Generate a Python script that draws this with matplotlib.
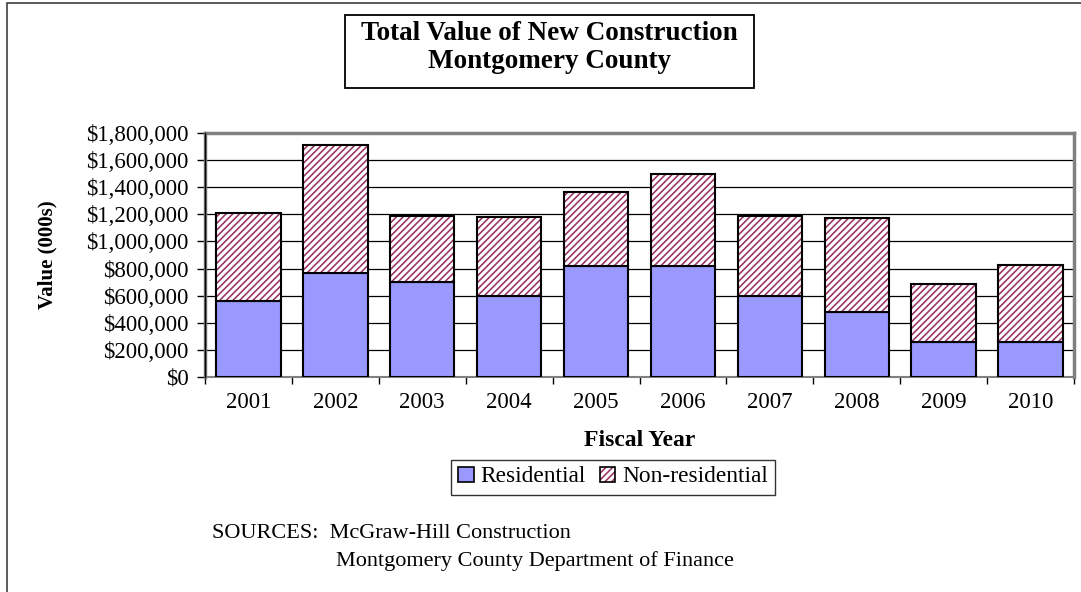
import matplotlib
matplotlib.use("Agg")
import matplotlib.pyplot as plt
from matplotlib.patches import Rectangle, Patch
from matplotlib.legend_handler import HandlerTuple
from matplotlib.ticker import FuncFormatter, FixedLocator

years = ["2001", "2002", "2003", "2004", "2005", "2006", "2007", "2008", "2009", "2010"]
residential = [560000, 770000, 700000, 600000, 820000, 820000, 600000, 480000, 258000, 258000]
total = [1210000, 1715000, 1190000, 1178000, 1365000, 1500000, 1190000, 1170000, 688000, 825000]
non_residential = [t - r for t, r in zip(total, residential)]

plt.rcParams['font.family'] = ['Liberation Serif', 'DejaVu Serif']
plt.rcParams['hatch.linewidth'] = 1.15

W, H = 1081, 592
fig = plt.figure(figsize=(W / 100, H / 100), dpi=100)
fig.patch.set_facecolor('white')

# outer frame (top and left visible)
fig.add_artist(Rectangle((7 / W, -0.1), 1.2, 1.1 - 3 / H, transform=fig.transFigure,
                         fill=False, edgecolor='#404040', linewidth=1.2))

l, r, t, b = 205, 1074, 133, 377
ax = fig.add_axes([l / W, 1 - b / H, (r - l) / W, (b - t) / H])

x = list(range(len(years)))
width = 0.74
res_color = '#9999FF'
hatch_color = '#993366'

ax.bar(x, residential, width, color=res_color, edgecolor='black', linewidth=1.5, zorder=3)
ax.bar(x, non_residential, width, bottom=residential, color='white',
       edgecolor=hatch_color, hatch='/////', linewidth=0, zorder=3)
ax.bar(x, non_residential, width, bottom=residential, facecolor='none',
       edgecolor='black', linewidth=1.5, zorder=4)

ax.set_xlim(-0.5, len(years) - 0.5)
ax.set_ylim(0, 1800000)
ax.yaxis.set_major_locator(FixedLocator(list(range(0, 1800001, 200000))))
ax.yaxis.set_major_formatter(FuncFormatter(lambda v, p: "${:,.0f}".format(v)))
ax.grid(axis='y', color='black', linewidth=0.9, zorder=1)
ax.set_axisbelow(True)

ax.xaxis.set_major_locator(FixedLocator([i - 0.5 for i in range(len(years) + 1)]))
ax.xaxis.set_major_formatter(FuncFormatter(lambda v, p: ""))
ax.xaxis.set_minor_locator(FixedLocator(x))
ax.set_xticklabels(years, minor=True)
ax.tick_params(axis='x', which='minor', length=0, pad=11, labelsize=16.5)
ax.tick_params(axis='x', which='major', length=5, width=1, color='black', direction='out')
ax.tick_params(axis='y', length=6, width=1, color='black', direction='out', labelsize=16.5, pad=6)

for s in ['top', 'right', 'left']:
    ax.spines[s].set_color('#808080')
    ax.spines[s].set_linewidth(2.5)
ax.spines['bottom'].set_color('#808080')
ax.spines['bottom'].set_linewidth(1.5)
ax.plot([0, 0], [0, 1], transform=ax.transAxes, color='black', linewidth=1, zorder=6, clip_on=False)

fig.text(47 / W, 1 - 255 / H, "Value (000s)", rotation=90, ha='center', va='center',
         fontsize=15, fontweight='bold')
fig.text(640 / W, 1 - 440 / H, "Fiscal Year", ha='center', va='center',
         fontsize=17, fontweight='bold')

# title box
bx0, bx1, by0, by1 = 345, 754, 15, 88
fig.add_artist(Rectangle((bx0 / W, 1 - by1 / H), (bx1 - bx0) / W, (by1 - by0) / H,
                         transform=fig.transFigure, fill=False, edgecolor='black', linewidth=1.3))
cx = (bx0 + bx1) / 2 / W
fig.text(cx, 1 - 34 / H, "Total Value of New Construction", ha='center', va='center',
         fontsize=19.5, fontweight='bold')
fig.text(cx, 1 - 61 / H, "Montgomery County", ha='center', va='center',
         fontsize=19.5, fontweight='bold')

# legend
h_res = Patch(facecolor=res_color, edgecolor='black', linewidth=1.2)
h_non_bg = Patch(facecolor='white', edgecolor=hatch_color, hatch='/////', linewidth=0)
h_non_fr = Patch(facecolor='none', edgecolor='black', linewidth=1.2)
leg = fig.legend([h_res, (h_non_bg, h_non_fr)], ["Residential", "Non-residential"],
                 handler_map={tuple: HandlerTuple(ndivide=1, pad=0)},
                 loc='center', bbox_to_anchor=(613 / W, 1 - 477 / H), ncol=2,
                 fontsize=16.8, frameon=True, fancybox=False, edgecolor='black',
                 handlelength=0.65, handleheight=0.65, handletextpad=0.3,
                 columnspacing=0.6, borderpad=0.3, borderaxespad=0)
leg.get_frame().set_linewidth(1.0)

fig.text(212 / W, 1 - 533 / H, "SOURCES:  McGraw-Hill Construction", ha='left', va='center', fontsize=16)
fig.text(336 / W, 1 - 561 / H, "Montgomery County Department of Finance", ha='left', va='center', fontsize=16)

fig.savefig("out.png", dpi=100, facecolor='white')
